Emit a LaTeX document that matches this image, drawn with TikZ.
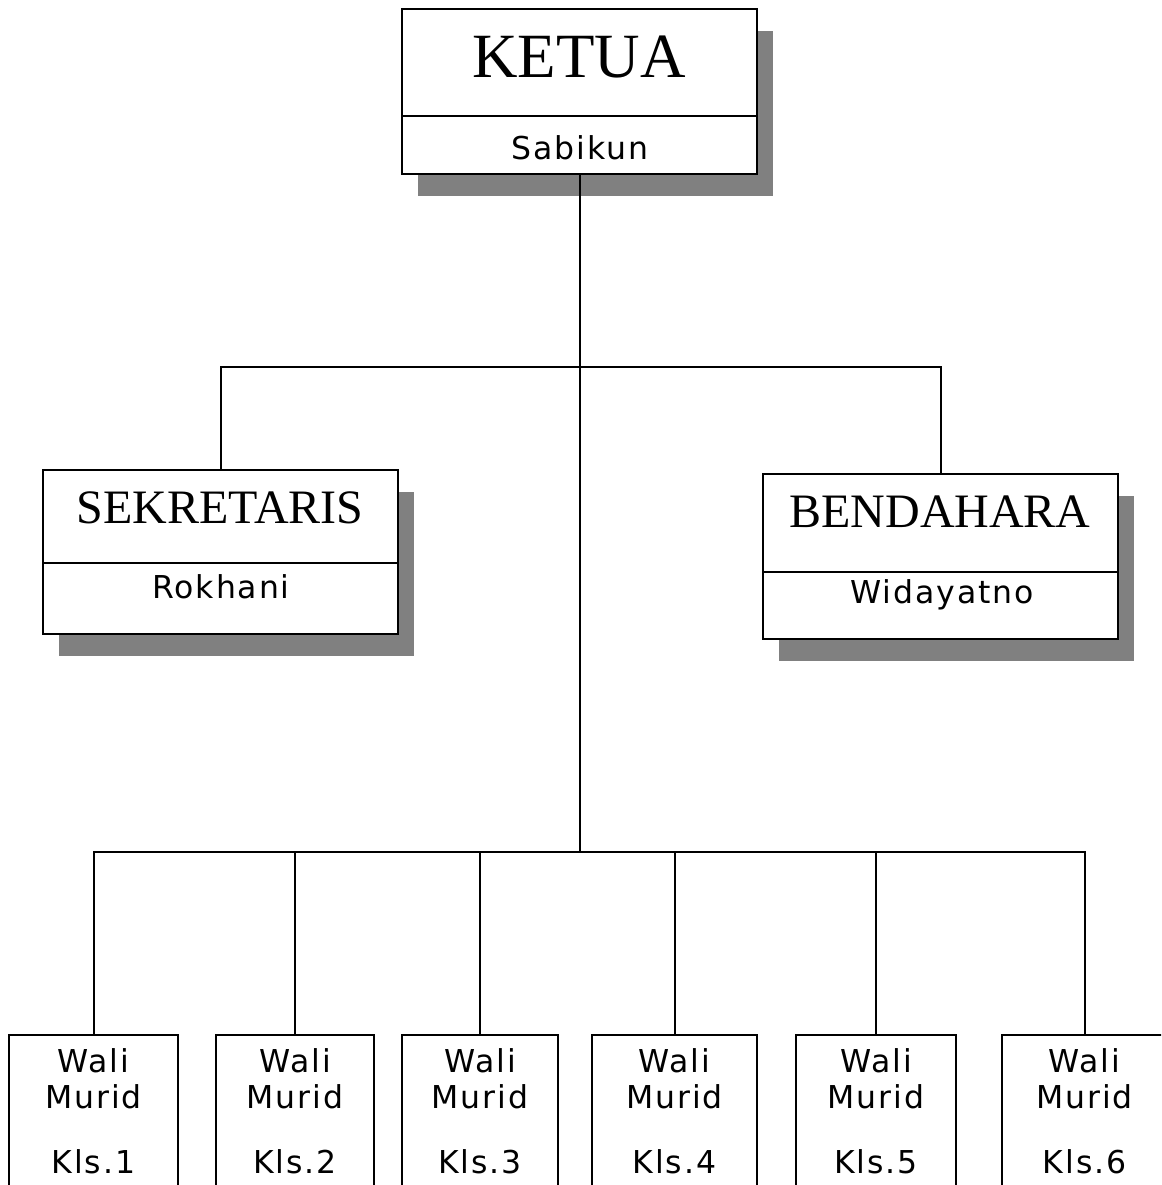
\documentclass[tikz,border=0pt]{standalone}
\usepackage{fontspec}
\setmainfont{Liberation Serif}
\newfontfamily\namefont[LetterSpace=6]{DejaVu Sans}
\usetikzlibrary{shadows}
\tikzset{
  box/.style={draw=black, line width=2pt, fill=white, rectangle, inner sep=0pt},
  shadowbox/.style={box, drop shadow={shadow xshift=16pt, shadow yshift=-22pt, fill=black!50, opacity=1}},
  conn/.style={line width=2pt},
  divider/.style={line width=2pt},
  bigtitle/.style={anchor=base, inner sep=0pt, font=\fontsize{63}{63}\selectfont},
  midtitle/.style={anchor=base, inner sep=0pt, font=\fontsize{48}{48}\selectfont},
  nametext/.style={anchor=base, inner sep=0pt, font=\namefont\fontsize{31.5}{31.5}\selectfont},
}
\begin{document}
\begin{tikzpicture}[x=1pt,y=-1pt]
\useasboundingbox (0,0) rectangle (1161,1185);
\clip (0,0) rectangle (1161,1185);
\fill[white] (0,0) rectangle (1161,1185);

% KETUA
\node[shadowbox, minimum width=355pt, minimum height=165pt] (ketua) at (579.5,91.5) {};
\draw[divider] (402,116) -- (757,116);
\node[bigtitle] (ketuaT) at (579,78) {KETUA};
\node[nametext] (ketuaN) at (580,160) {Sabikun};

% SEKRETARIS
\node[shadowbox, minimum width=355pt, minimum height=164pt] (sek) at (220.5,552) {};
\draw[divider] (43,563) -- (398,563);
\node[midtitle] (sekT) at (220,523) {SEKRETARIS};
\node[nametext] (sekN) at (221,598) {Rokhani};

% BENDAHARA
\node[shadowbox, minimum width=355pt, minimum height=165pt] (bend) at (940.5,556.5) {};
\draw[divider] (763,572) -- (1118,572);
\node[midtitle] (bendT) at (940,527) {BENDAHARA};
\node[nametext] (bendN) at (942,603) {Widayatno};

% Wali murid boxes
\foreach \i/\cx/\w in {1/93.5/169, 2/295/158, 3/480/156, 4/674.5/165, 5/876/160, 6/1084.5/165} {
  \node[box, anchor=north, minimum width=\w pt, minimum height=200pt] (w\i) at (\cx,1034) {};
  \node[nametext] (w\i a) at (\cx,1072) {Wali};
  \node[nametext] (w\i b) at (\cx,1108) {Murid};
  \node[nametext] (w\i c) at (\cx,1173) {Kls.\i};
}

% connectors
\coordinate (j1) at (578,367);
\coordinate (j2) at (578,852);
\draw[conn] (ketua.south) -- (ketua.south |- j2);
\draw[conn] (sek.north) |- (bend.north |- j1) -- (bend.north);
\draw[conn] (w1.north) |- (w6.north |- j2) -- (w6.north);
\foreach \i in {2,3,4,5} {
  \draw[conn] (w\i.north) -- (w\i.north |- j2);
}
\end{tikzpicture}
\end{document}
